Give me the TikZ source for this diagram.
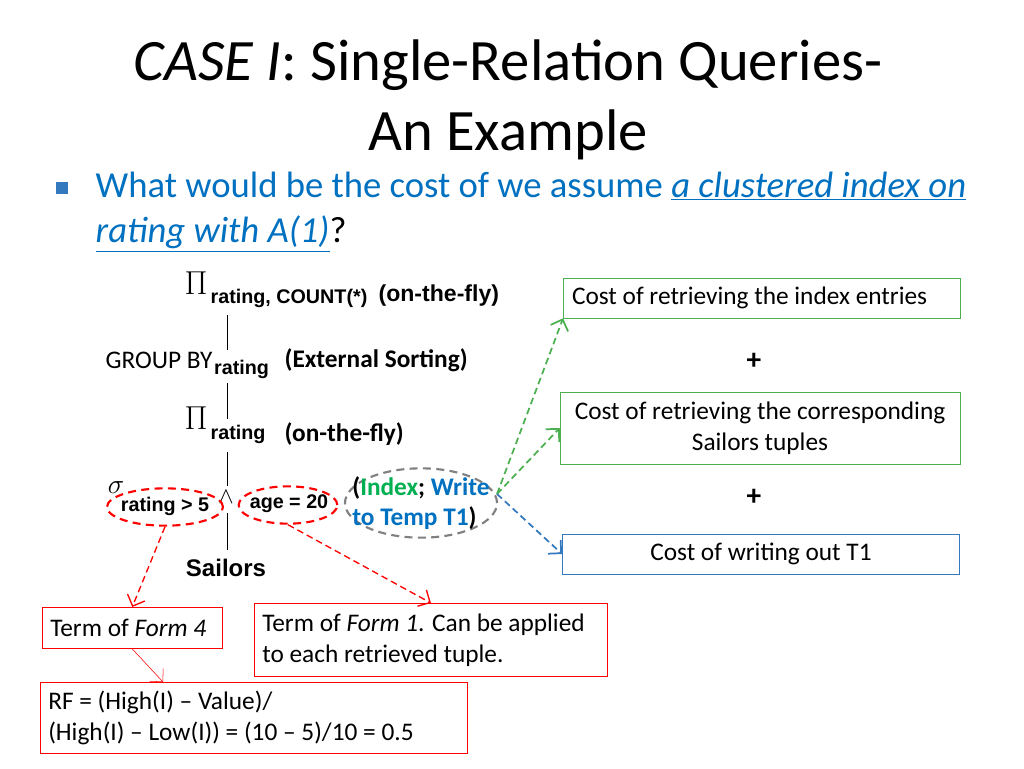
\documentclass[tikz,border=0pt]{standalone}
\usepackage{fontspec}
\setmainfont{Carlito}
\newfontfamily\arialfont{Liberation Sans}
\usetikzlibrary{positioning, shapes, arrows.meta}
\definecolor{boxgreen}{RGB}{76,175,80}
\definecolor{boxblue}{RGB}{52,120,190}
\definecolor{linkblue}{RGB}{0,112,192}
\definecolor{idxgreen}{RGB}{0,176,80}
\tikzstyle{costbox}=[draw=boxgreen, minimum height=30pt, align=center, font=\fontsize{19}{23}\selectfont]
\tikzstyle{termbox}=[draw=red, align=flush left, font=\fontsize{19}{23}\selectfont, inner sep=6pt, anchor=north west]
\tikzstyle{tree}=[font=\arialfont\bfseries\fontsize{14.8}{16}\selectfont, inner sep=1pt]
\tikzstyle{note}=[font=\bfseries\fontsize{19}{21}\selectfont, inner sep=1pt]
\tikzstyle{redoval}=[draw=red, ellipse, dashed, line width=1.6pt, dash pattern=on 6pt off 4pt]
\tikzstyle{link}=[-{Straight Barb[length=7pt]}, dashed, line width=1.3pt, dash pattern=on 5pt off 3pt]
\begin{document}
\begin{tikzpicture}[x=0.75pt, y=-0.75pt]
\useasboundingbox (0,0) rectangle (1024,768);
% title
\node (title) at (508,100) [align=center, font=\fontsize{44}{52}\selectfont] {\textit{CASE I}: Single-Relation Queries-\\An Example};
\node (bul) at (62,188) [fill=boxblue, minimum size=9pt, inner sep=0pt] {};
\node (q) at (91,212) [anchor=west, align=left, font=\fontsize{27.5}{34}\selectfont, text=linkblue] {What would be the cost of we assume \underline{\textit{a clustered index on}}\\\underline{\textit{rating with A(1)}}\textcolor{black}{?}};
% tree
\node (pi1) at (196,283) [font=\fontsize{24}{24}\selectfont] {$\Pi$};
\node (p1) at (209,298) [tree, anchor=west] {rating, COUNT(*)};
\node (f1) at (377,296) [note, anchor=west, font=\arialfont\bfseries\fontsize{17.3}{19}\selectfont] {(on-the-fly)};
\node (gb) at (104,360) [anchor=west, font=\fontsize{19}{21}\selectfont, inner sep=1pt] {GROUP BY};
\node (gbr) at (gb.east) [tree, anchor=west, yshift=-7pt, inner sep=0pt] {rating};
\node (es) at (283,360) [note, anchor=west] {(External Sorting)};
\node (pi2) at (196,418) [font=\fontsize{24}{24}\selectfont] {$\Pi$};
\node (p2) at (209,434) [tree, anchor=west] {rating};
\node (f2) at (283,434) [note, anchor=west] {(on-the-fly)};
\node (sig) at (116,488) [font=\fontsize{20}{20}\selectfont] {$\sigma$};
\node (and) at (226,497) [font=\fontsize{16}{16}\selectfont] {$\wedge$};
\node (c1) at (165,506) [tree] {rating > 5};
\node (c2) at (289,504) [tree] {age = 20};
\node (sail) at (226,568) [tree, font=\arialfont\bfseries\fontsize{18}{20}\selectfont] {Sailors};
\draw (227,315) -- (227,350) (227,383) -- (227,419) (227,452) -- (227,486) (227,513) -- (227,550);
\node (o1) at (165,507) [redoval, minimum width=87pt, minimum height=28pt] {};
\node (o2) at (288,505) [redoval, minimum width=74pt, minimum height=28pt] {};
\node (o3) at (421,503) [draw=gray, ellipse, dashed, line width=1.6pt, dash pattern=on 6pt off 4pt, minimum width=114pt, minimum height=52pt] {};
\node (ix) at (421,503) [align=left, font=\bfseries\fontsize{19}{23}\selectfont, inner sep=0pt] {(\textcolor{idxgreen}{Index}; \textcolor{linkblue}{Write}\\\textcolor{linkblue}{to Temp T1})};
% cost boxes
\node (b1) at (762,298) [costbox, minimum width=298pt, text width=285pt, align=flush left] {Cost of retrieving the index entries};
\node (plus1) at (754,361) [font=\bfseries\fontsize{22}{22}\selectfont] {+};
\node (b2) at (760,428) [costbox, minimum width=300pt, minimum height=54pt] {Cost of retrieving the corresponding\\Sailors tuples};
\node (plus2) at (754,497) [font=\bfseries\fontsize{22}{22}\selectfont] {+};
\node (b3) at (761,554) [costbox, draw=boxblue, minimum width=298pt] {Cost of writing out T1};
\coordinate (src) at (497,494);
\coordinate (rftop) at (163,682);
\draw [link, boxgreen] (src) -- (b1.south west);
\draw [link, boxgreen] (src) -- (b2.west);
\draw [link, boxblue] (src) -- (b3.west);
% terms
\node (t4) at (42,607) [termbox, text width=123pt, minimum height=31pt] {Term of \textit{Form 4}};
\node (t1) at (254,603) [termbox, text width=253pt, minimum height=55pt] {Term of \textit{Form 1}. Can be applied\\to each retrieved tuple.};
\node (rf) at (40,682) [termbox, text width=308pt, minimum height=53pt] {RF = (High(I) -- Value)/\\(High(I) -- Low(I)) = (10 -- 5)/10 = 0.5};
\draw [link, red, line width=1pt] (o1.south) -- (t4.north);
\draw [link, red, line width=1pt] (o2.south) -- (t1.north);
\draw [-{Straight Barb[length=7pt]}, red] (t4.south) -- (rftop);
\end{tikzpicture}
\end{document}
